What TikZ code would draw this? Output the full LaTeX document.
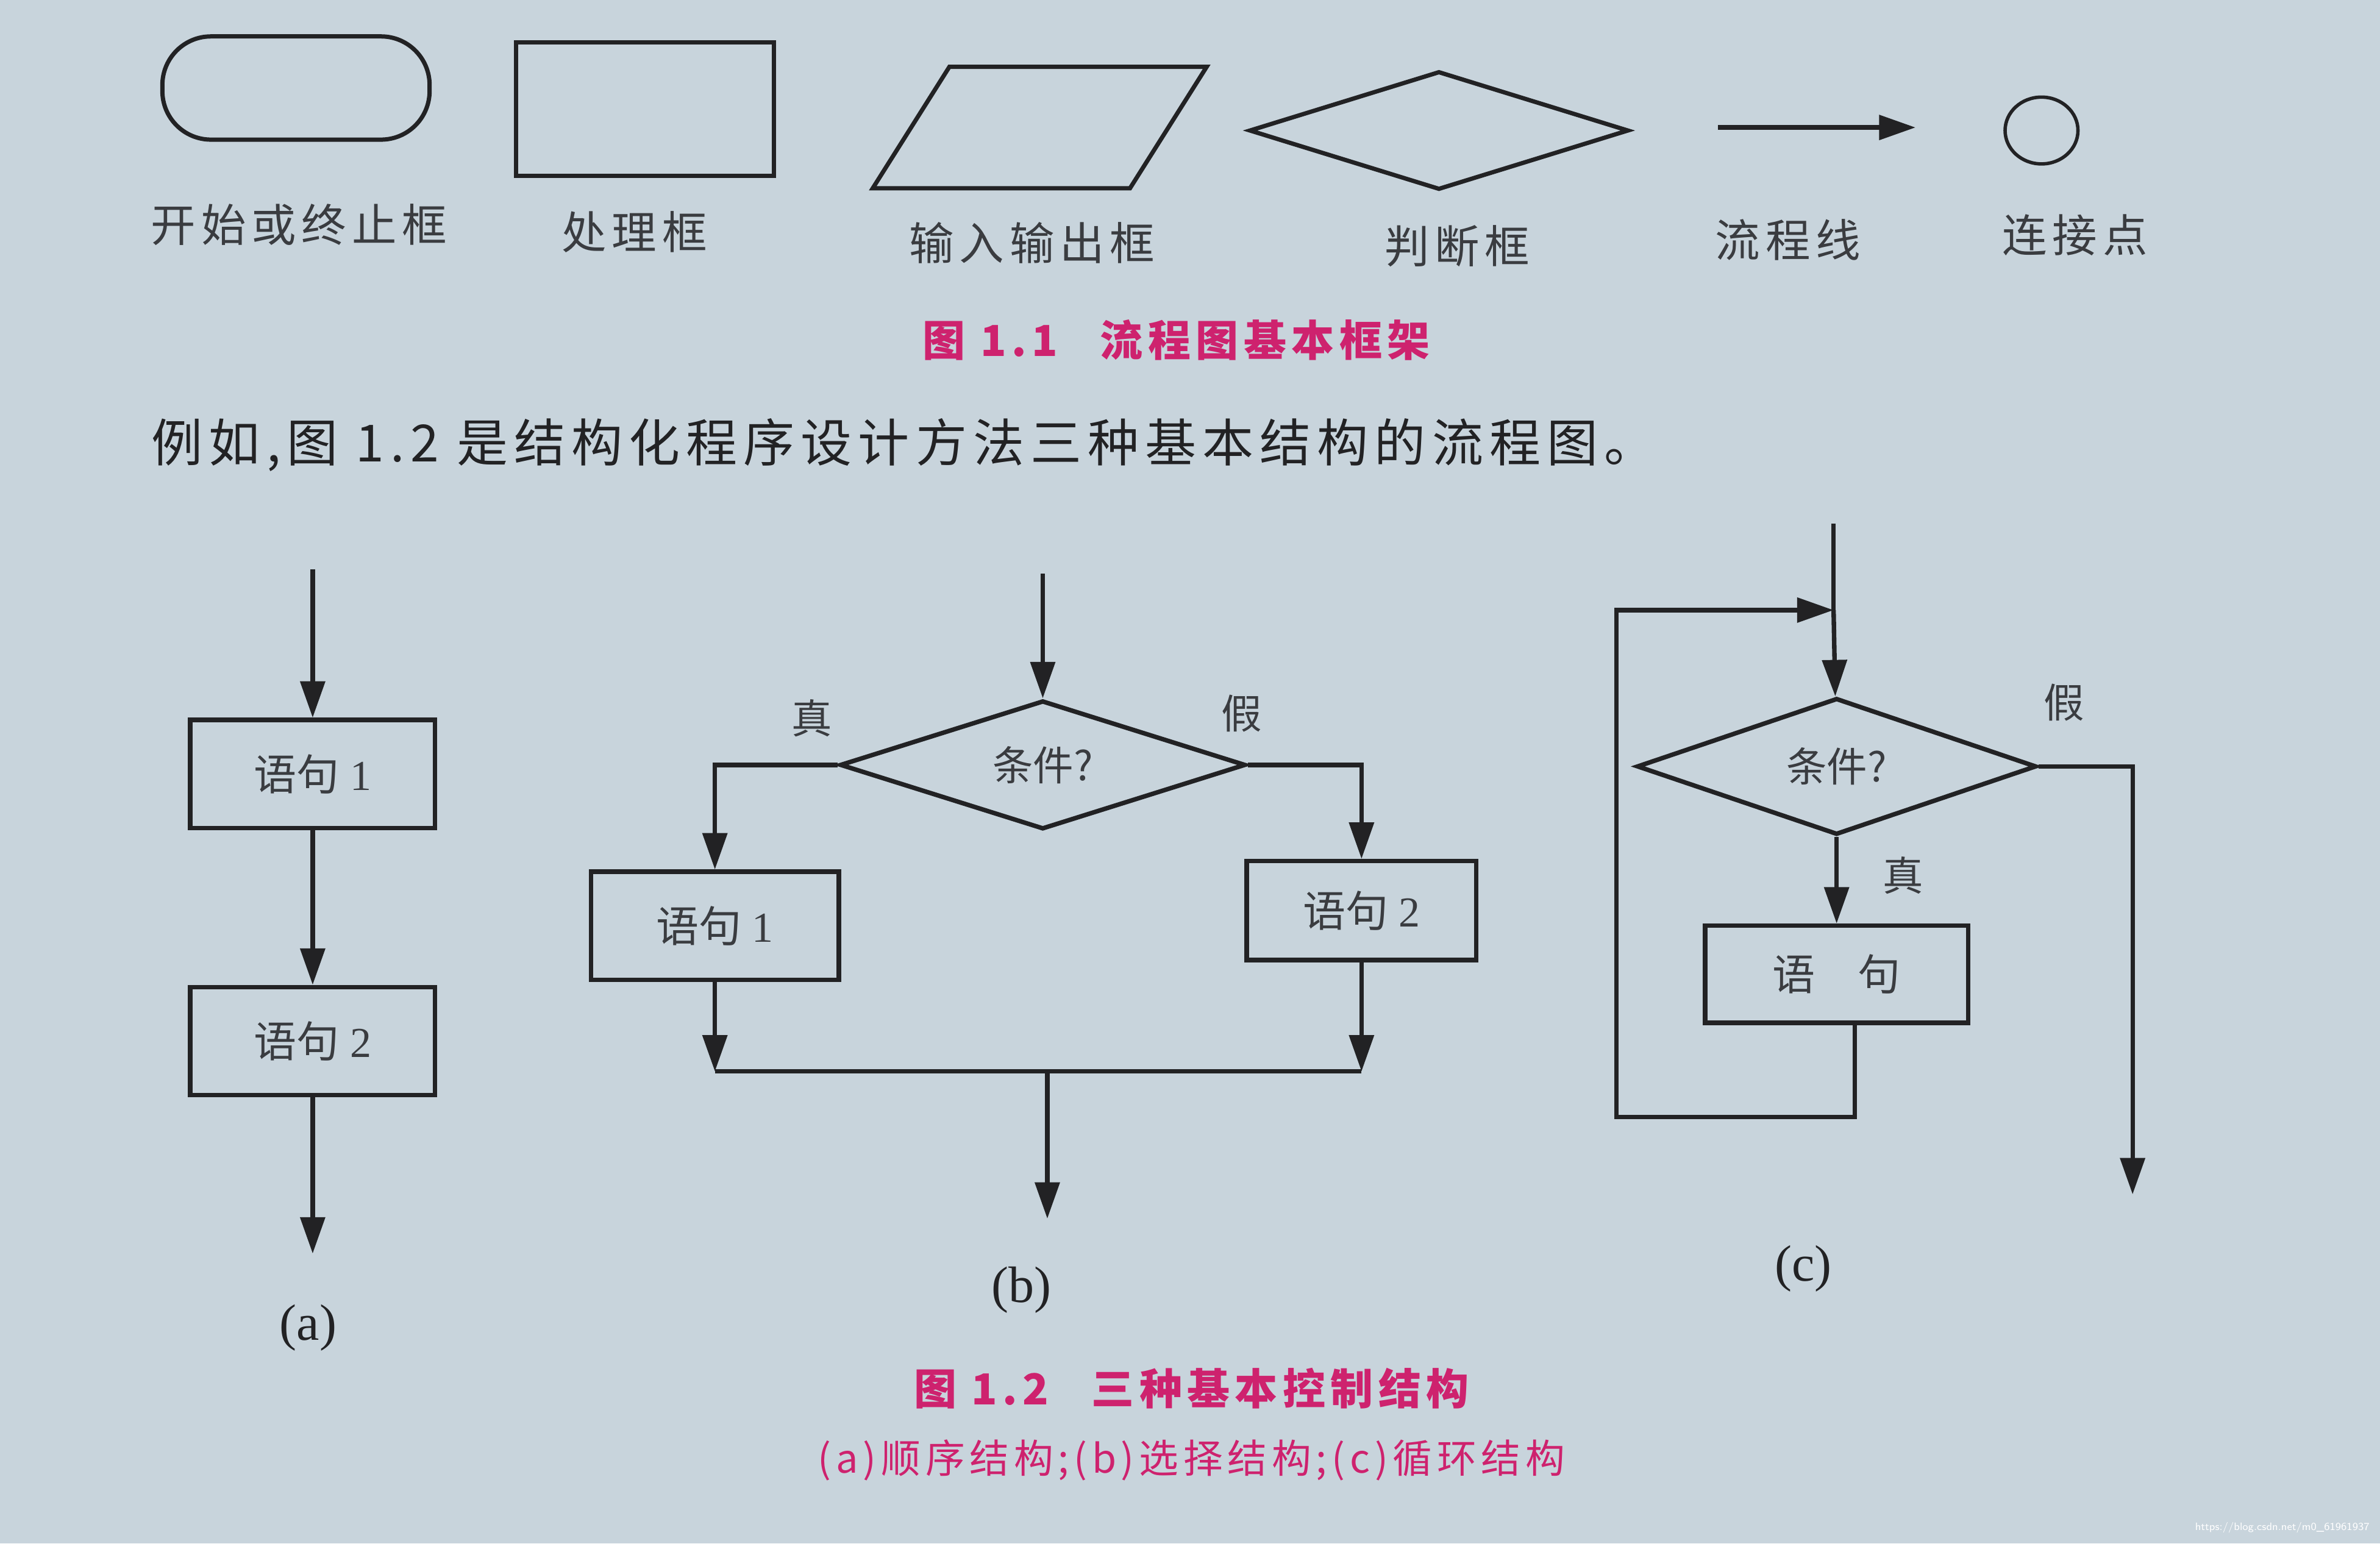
\documentclass[tikz,border=0pt]{standalone}
\usepackage{fontspec}
\setmainfont{Liberation Serif}
\newfontfamily\cjk{Noto Sans CJK SC}
\newfontfamily\cjkwide[LetterSpace=12]{Noto Sans CJK SC}
\usetikzlibrary{shapes.geometric,arrows.meta,positioning}
\definecolor{pagegray}{RGB}{200,212,220}
\definecolor{inkblack}{RGB}{34,34,36}
\definecolor{labelgray}{RGB}{58,60,64}
\definecolor{captionpink}{RGB}{206,34,110}

\begin{document}
\begin{tikzpicture}[x=0.025cm, y=-0.025cm,
    box/.style={rectangle, draw=inkblack, line width=2.1pt, minimum width=4.03cm,
                minimum height=1.78cm, inner sep=0pt, font=\fontsize{20}{24}\selectfont, text=labelgray},
    cond/.style={diamond, draw=inkblack, line width=2.1pt, aspect=3, minimum width=6.68cm,
                 minimum height=2.12cm, inner sep=0pt, font=\cjk\fontsize{19}{22}\selectfont, text=labelgray},
    arr/.style={-{Triangle[length=6mm,width=4mm]}, line width=2.1pt, inkblack},
    flowline/.style={line width=2.1pt, inkblack},
    shapelabel/.style={font=\cjkwide\fontsize{21}{25}\selectfont, text=labelgray},
    branch/.style={font=\cjk\fontsize{19}{23}\selectfont, text=labelgray},
    sublabel/.style={font=\fontsize{24}{28}\selectfont, text=inkblack},
    caption/.style={font=\cjkwide\bfseries\fontsize{20}{24}\selectfont, text=captionpink}
]
    \fill[pagegray] (0,0) rectangle (1568,1017);
    \useasboundingbox (0,0) rectangle (1568,1017);

    % basic shapes (fig 1.1)
    \node[rectangle, draw=inkblack, line width=2pt, rounded corners=0.8cm,
          minimum width=4.4cm, minimum height=1.7cm] (term) at (195,58) {};
    \node[rectangle, draw=inkblack, line width=2pt,
          minimum width=4.25cm, minimum height=2.2cm] (proc) at (425,72) {};
    \node[trapezium, trapezium left angle=67, trapezium right angle=113, trapezium stretches=true,
          draw=inkblack, line width=2pt, minimum width=5.5cm, minimum height=2cm] (io) at (685,84) {};
    \node[diamond, draw=inkblack, line width=2pt, aspect=3,
          minimum width=6.25cm, minimum height=1.95cm] (judge) at (948,86) {};
    \coordinate (flowa) at (1132,84);
    \coordinate (flowb) at (1262,84);
    \draw[arr] (flowa) -- (flowb);
    \node[ellipse, draw=inkblack, line width=1.6pt,
          minimum width=1.2cm, minimum height=1.1cm] (conn) at (1345,86) {};

    \node[shapelabel] (termlab) at (197,148) {开始或终止框};
    \node[shapelabel] (proclab) at (418,153) {处理框};
    \node[shapelabel] (iolab) at (680,160) {输入输出框};
    \node[shapelabel] (judgelab) at (960,162) {判断框};
    \node[shapelabel] (flowlab) at (1178,158) {流程线};
    \node[shapelabel] (connlab) at (1367,155) {连接点};

    \node[caption] (cap1) at (775,224) {图 1.1\quad 流程图基本框架};

    \node[anchor=west, font=\cjkwide\fontsize{24}{28}\selectfont, text=inkblack] (intro) at (95,293)
        {例如,图 1.2 是结构化程序设计方法三种基本结构的流程图。};

    % (a) sequence
    \coordinate (ain) at (206,375);
    \node[box] (a1) at (206,510) {{\cjk 语句} 1};
    \node[box] (a2) at (206,686) {{\cjk 语句} 2};
    \coordinate (aout) at (206,826);
    \draw[arr] (ain) -- (a1);
    \draw[arr] (a1) -- (a2);
    \draw[arr] (a2) -- (aout);
    \node[sublabel] (alab) at (203,875) {(a)};

    % (b) selection
    \coordinate (bin) at (687,378);
    \node[cond] (bcond) at (687,504) {条件?};
    \node[box, minimum width=4.08cm] (b1) at (471,610) {{\cjk 语句} 1};
    \node[box, minimum width=3.78cm, minimum height=1.63cm] (b2) at (897,600) {{\cjk 语句} 2};
    \coordinate (bjoin) at (690,706);
    \coordinate (bout) at (690,803);
    \draw[arr] (bin) -- (bcond);
    \draw[arr] (bcond.west) -| (b1.north);
    \draw[arr] (bcond.east) -| (b2.north);
    \draw[arr] (b1.south) -- (b1.south |- bjoin);
    \draw[arr] (b2.south) -- (b2.south |- bjoin);
    \draw[flowline] (b1.south |- bjoin) -- (b2.south |- bjoin);
    \draw[arr] (bjoin) -- (bout);
    \node[branch] (btrue) at (535,473) {真};
    \node[branch] (bfalse) at (818,470) {假};
    \node[sublabel] (blab) at (673,850) {(b)};

    % (c) loop
    \coordinate (cin) at (1208,345);
    \coordinate (cmeet) at (1208,402);
    \node[cond, minimum width=6.58cm, minimum height=2.25cm] (ccond) at (1210,505) {条件?};
    \node[box, minimum width=4.33cm, minimum height=1.6cm] (cbody) at (1210,642) {{\cjk 语\quad 句}};
    \coordinate (cback) at (1065,736);
    \coordinate (cout) at (1405,787);
    \draw[flowline] (cin) -- (cmeet);
    \draw[arr] (cmeet) -- (ccond);
    \draw[arr] (ccond) -- (cbody);
    \draw[arr] (ccond.east) -| (cout);
    \draw[arr] ([xshift=0.3cm]cbody.south) |- (cback) |- (cmeet);
    \node[branch] (ctrue) at (1254,577) {真};
    \node[branch] (cfalse) at (1360,463) {假};
    \node[sublabel] (clab) at (1188,836) {(c)};

    \node[caption] (cap2) at (785,915) {图 1.2\quad 三种基本控制结构};
    \node[font=\cjkwide\fontsize{18.5}{22}\selectfont, text=captionpink] (cap2sub) at (785,962)
        {(a)顺序结构;(b)选择结构;(c)循环结构};

    \node[anchor=south east, font=\sffamily\fontsize{5}{6}\selectfont, text=white] (mark) at (1566,1015)
        {https://blog.csdn.net/m0\_61961937};
\end{tikzpicture}
\end{document}
